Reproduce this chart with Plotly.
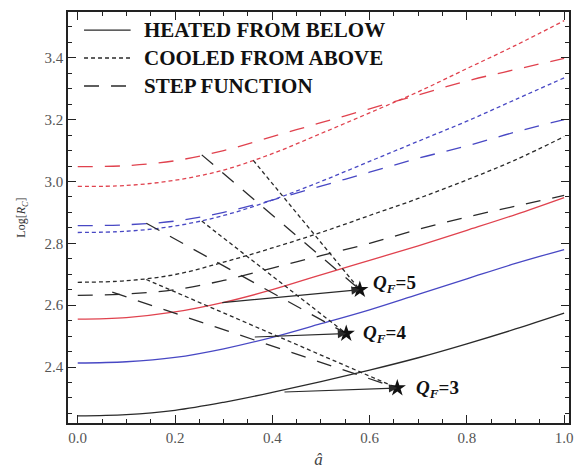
import plotly.graph_objects as go

# ---------------- data ----------------
a_vals = [0.0, 0.1, 0.2, 0.3, 0.4, 0.5, 0.6, 0.7, 0.8, 0.9, 1.0]

# Heated from below (solid)
heated_q3 = [2.242, 2.246, 2.260, 2.286, 2.318, 2.353, 2.390, 2.430, 2.475, 2.523, 2.574]
heated_q4 = [2.413, 2.417, 2.431, 2.459, 2.496, 2.540, 2.585, 2.635, 2.685, 2.735, 2.780]
heated_q5 = [2.555, 2.560, 2.578, 2.609, 2.650, 2.698, 2.745, 2.792, 2.842, 2.893, 2.948]

# Cooled from above (dotted)
cooled_q3 = [2.674, 2.679, 2.699, 2.739, 2.785, 2.835, 2.890, 2.945, 3.005, 3.070, 3.145]
cooled_q4 = [2.835, 2.839, 2.856, 2.890, 2.940, 3.000, 3.065, 3.130, 3.195, 3.265, 3.335]
cooled_q5 = [2.984, 2.987, 3.004, 3.037, 3.090, 3.155, 3.222, 3.290, 3.365, 3.440, 3.520]

# Step function (dashed)
step_q3 = [2.632, 2.636, 2.650, 2.680, 2.720, 2.760, 2.800, 2.845, 2.885, 2.920, 2.955]
step_q4 = [2.857, 2.860, 2.872, 2.900, 2.940, 2.985, 3.030, 3.075, 3.115, 3.160, 3.200]
step_q5 = [3.048, 3.051, 3.067, 3.100, 3.145, 3.190, 3.235, 3.280, 3.325, 3.362, 3.398]

# Q_F markers (converging points) and guide lines
qf_values = [3, 4, 5]
star_a = [0.657, 0.552, 0.580]
star_log = [2.332, 2.508, 2.650]
dash_start_a = [0.071, 0.141, 0.255]
dash_start_log = [2.642, 2.865, 3.086]
dot_start_a = [0.141, 0.255, 0.361]
dot_start_log = [2.683, 2.872, 3.068]
arrow_start_a = [0.422, 0.361, 0.294]
arrow_start_log = [2.319, 2.497, 2.608]
label_a = [0.692, 0.582, 0.602]
label_log = [2.330, 2.506, 2.668]

legend_names = ["HEATED FROM BELOW", "COOLED FROM ABOVE", "STEP FUNCTION"]

x_ticks = [0.0, 0.2, 0.4, 0.6, 0.8, 1.0]
y_ticks = [2.4, 2.6, 2.8, 3.0, 3.2, 3.4]

# ---------------- styles ----------------
RED = "#e0424e"
BLUE = "#4848c4"
BLACK = "#2a2a2a"
DOT = "4px,3px"
DASH = "15px,12px"
SERIF = "Liberation Serif"

fig = go.Figure()

series = [
    (heated_q3, BLACK, "solid"), (heated_q4, BLUE, "solid"), (heated_q5, RED, "solid"),
    (cooled_q3, BLACK, DOT), (cooled_q4, BLUE, DOT), (cooled_q5, RED, DOT),
    (step_q3, BLACK, DASH), (step_q4, BLUE, DASH), (step_q5, RED, DASH),
]
for ys, col, dash in series:
    fig.add_trace(go.Scatter(x=a_vals, y=ys, mode="lines", line_shape="spline",
                             line=dict(color=col, width=1.3, dash=dash),
                             showlegend=False, hoverinfo="skip"))

# guide lines converging to the Q_F points
for i in range(len(qf_values)):
    fig.add_trace(go.Scatter(x=[dash_start_a[i], star_a[i]], y=[dash_start_log[i], star_log[i]],
                             mode="lines", line=dict(color=BLACK, width=1.3, dash=DASH),
                             showlegend=False, hoverinfo="skip"))
    fig.add_trace(go.Scatter(x=[dot_start_a[i], star_a[i]], y=[dot_start_log[i], star_log[i]],
                             mode="lines", line=dict(color=BLACK, width=1.3, dash=DOT),
                             showlegend=False, hoverinfo="skip"))
    fig.add_annotation(x=star_a[i], y=star_log[i], ax=arrow_start_a[i], ay=arrow_start_log[i],
                       xref="x", yref="y", axref="x", ayref="y", text="",
                       showarrow=True, arrowhead=2, arrowsize=1.4, arrowwidth=1.2,
                       arrowcolor=BLACK)
    fig.add_annotation(x=label_a[i], y=label_log[i], xref="x", yref="y",
                       text=f"<b><i>Q</i><sub><i>F</i></sub>={qf_values[i]}</b>",
                       showarrow=False, xanchor="left", yanchor="middle",
                       font=dict(family=SERIF, size=19, color="#111"))

fig.add_trace(go.Scatter(x=star_a, y=star_log, mode="markers",
                         marker=dict(symbol="star", size=13, color="#111"),
                         showlegend=False, hoverinfo="skip"))

# manual legend
leg_y = [0.956, 0.888, 0.820]
for i, name in enumerate(legend_names):
    fig.add_shape(type="line", xref="paper", yref="paper",
                  x0=0.032, x1=0.125, y0=leg_y[i], y1=leg_y[i],
                  line=dict(color=BLACK, width=1.4,
                            dash=["solid", DOT, DASH][i]))
    fig.add_annotation(x=0.147, y=leg_y[i], xref="paper", yref="paper",
                       text=f"<b>{name}</b>", showarrow=False,
                       xanchor="left", yanchor="middle",
                       font=dict(family=SERIF, size=21, color="#111"))

axis_common = dict(
    showline=True, linecolor="#222", linewidth=1.5, mirror="allticks",
    ticks="inside", ticklen=8, tickwidth=1.2, tickcolor="#222",
    showgrid=False, zeroline=False,
    tickfont=dict(family=SERIF, size=15, color="#555"),
)

fig.update_xaxes(range=[-0.02, 1.01], tickvals=x_ticks,
                 ticktext=[f"{v:.1f}" for v in x_ticks],
                 minor=dict(ticks="inside", dtick=0.05, tick0=0, ticklen=4,
                            tickcolor="#222", tickwidth=1),
                 title=dict(text="<i>â</i>", font=dict(family=SERIF, size=17, color="#444"),
                            standoff=8),
                 **axis_common)
fig.update_yaxes(range=[2.219, 3.548], tickvals=y_ticks,
                 ticktext=[f"{v:.1f}" for v in y_ticks],
                 minor=dict(ticks="inside", dtick=0.05, tick0=0, ticklen=4,
                            tickcolor="#222", tickwidth=1),
                 title=dict(text="Log[<i>R</i><sub><i>C</i></sub>]",
                            font=dict(family=SERIF, size=12, color="#333"),
                            standoff=16),
                 **axis_common)

fig.update_layout(width=576, height=470,
                  margin=dict(l=68, r=3, t=12, b=47),
                  paper_bgcolor="white", plot_bgcolor="white",
                  showlegend=False)

fig.write_html("out.html")
